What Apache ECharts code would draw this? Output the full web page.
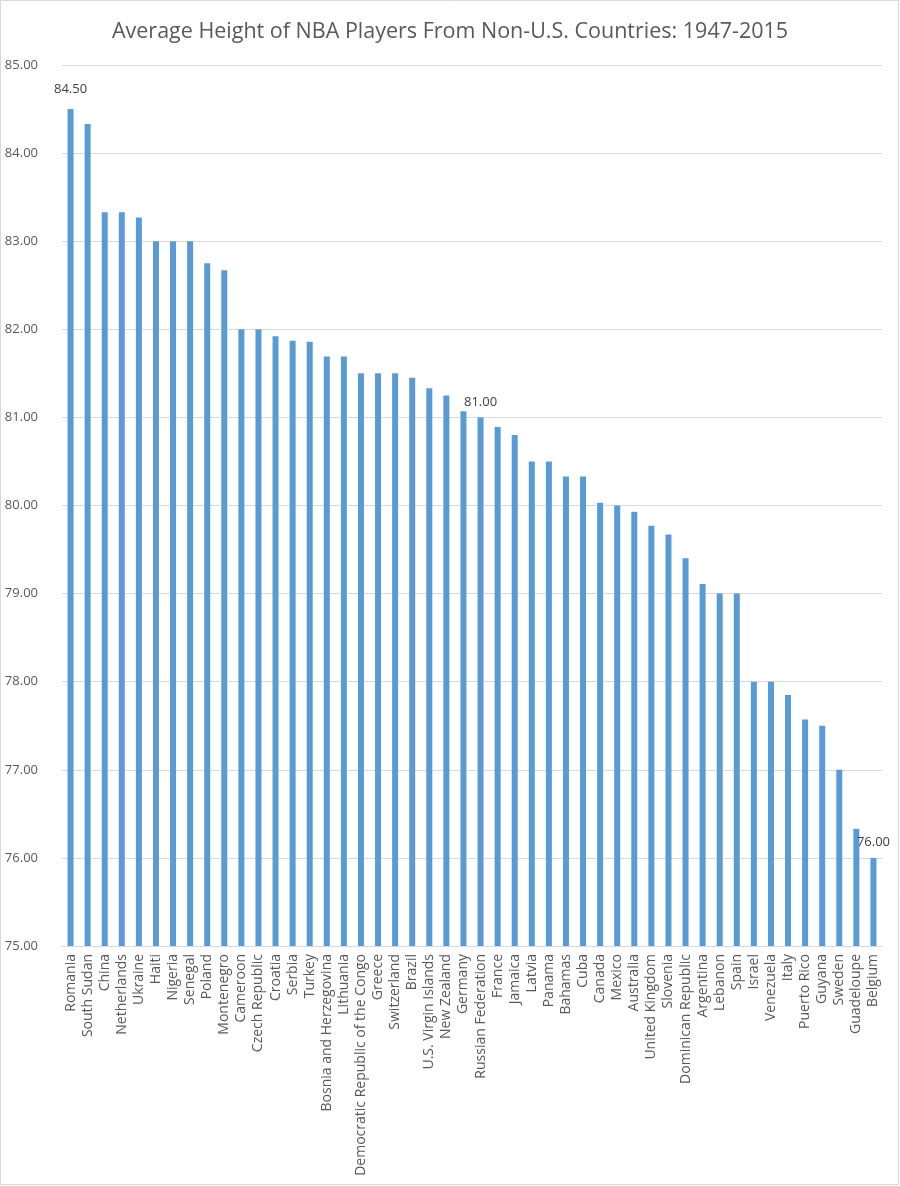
<!DOCTYPE html>
<html>
<head>
<meta charset="utf-8">
<script src="https://cdn.jsdelivr.net/npm/echarts@6/dist/echarts.min.js"></script>
<style>
html,body{margin:0;padding:0;background:#fff;}
#chart{width:900px;height:1186px;}
</style>
</head>
<body>
<div id="chart"></div>
<script>
const titleText = 'Average Height of NBA Players From Non-U.S. Countries: 1947-2015';
const countries = ['Romania','South Sudan','China','Netherlands','Ukraine','Haiti','Nigeria','Senegal','Poland','Montenegro','Cameroon','Czech Republic','Croatia','Serbia','Turkey','Bosnia and Herzegovina','Lithuania','Democratic Republic of the Congo','Greece','Switzerland','Brazil','U.S. Virgin Islands','New Zealand','Germany','Russian Federation','France','Jamaica','Latvia','Panama','Bahamas','Cuba','Canada','Mexico','Australia','United Kingdom','Slovenia','Dominican Republic','Argentina','Lebanon','Spain','Israel','Venezuela','Italy','Puerto Rico','Guyana','Sweden','Guadeloupe','Belgium'];
const heights = [84.50,84.33,83.33,83.33,83.27,83.00,83.00,83.00,82.75,82.67,82.00,82.00,81.92,81.87,81.86,81.69,81.69,81.50,81.50,81.50,81.45,81.33,81.25,81.07,81.00,80.89,80.80,80.50,80.50,80.33,80.33,80.03,80.00,79.93,79.77,79.67,79.40,79.11,79.00,79.00,78.00,78.00,77.85,77.57,77.50,77.00,76.33,76.00];
const labelledCountries = ['Romania','Russian Federation','Belgium'];
const yMin = 75, yMax = 85, yStep = 1;

const txt = '#595959';
const font = 'Open Sans';
const chart = echarts.init(document.getElementById('chart'));
const labelOffsets = {'Romania': [0, -8], 'Russian Federation': [0, -4], 'Belgium': [0, -4]};
const seriesData = heights.map((v, i) => {
  const item = {value: v};
  if (labelledCountries.includes(countries[i])) {
    item.label = {show: true, position: 'top', formatter: p => p.value.toFixed(2), color: '#404040', fontSize: 13, fontFamily: font, offset: labelOffsets[countries[i]]};
  }
  return item;
});
chart.setOption({
  animation: false,
  backgroundColor: '#fff',
  title: {
    text: titleText, left: 'center', top: 16,
    textStyle: {color: txt, fontSize: 21.5, fontWeight: 'normal', fontFamily: font}
  },
  grid: {left: 62, right: 18, top: 65, bottom: 240, containLabel: false},
  xAxis: {
    type: 'category', data: countries,
    axisLine: {show: true, lineStyle: {color: '#d9d9d9'}},
    axisTick: {show: false},
    axisLabel: {interval: 0, rotate: 90, color: txt, fontSize: 14, fontFamily: font, margin: 8}
  },
  yAxis: {
    type: 'value', min: yMin, max: yMax, interval: yStep,
    axisLine: {show: false}, axisTick: {show: false},
    splitLine: {lineStyle: {color: '#d9d9d9'}},
    axisLabel: {color: txt, fontSize: 13, fontFamily: font, formatter: v => v.toFixed(2), margin: 24}
  },
  series: [{
    type: 'bar', data: seriesData, barWidth: 6,
    itemStyle: {color: '#5b9bd5'}
  }],
  graphic: [{
    type: 'rect', shape: {x: 0.5, y: 0.5, width: 898, height: 1184},
    style: {fill: 'none', stroke: '#d9d9d9', lineWidth: 1}, silent: true
  }]
});
</script>
</body>
</html>
